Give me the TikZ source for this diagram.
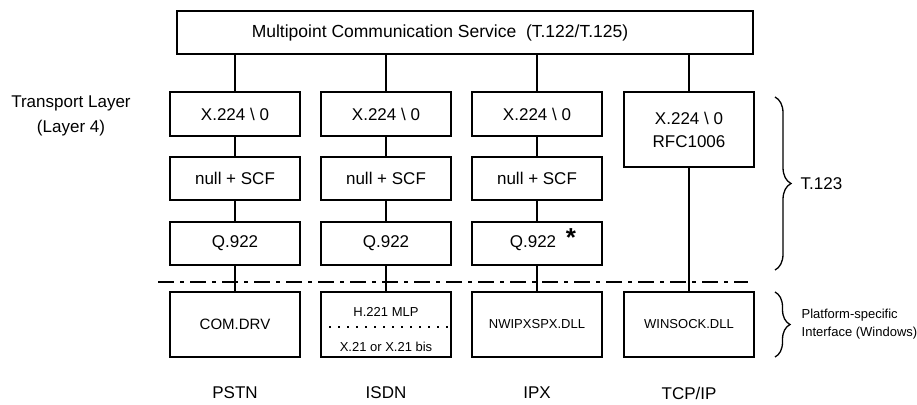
\documentclass[tikz,border=0pt]{standalone}
\usepackage{fontspec}
\setmainfont{Liberation Sans}
\usetikzlibrary{decorations.pathreplacing}
\begin{document}
\begin{tikzpicture}[x=1pt,y=-1pt,line width=1.3pt,
  box/.style={draw,inner sep=0pt,minimum width=130pt,minimum height=43pt,font=\fontsize{17}{20}\selectfont},
  lowbox/.style={box,minimum height=65pt},
  smalltext/.style={inner sep=0pt,font=\fontsize{13}{18}\selectfont},
  bigtext/.style={inner sep=0pt,font=\fontsize{17}{25}\selectfont},
  conn/.style={line width=1.3pt},
  sepline/.style={line width=1.8pt,dash pattern=on 16pt off 6pt on 4pt off 6pt},
  dotline/.style={line width=1.3pt,dash pattern=on 1.8pt off 7.2pt},
  bracestyle/.style={line width=1.3pt,decorate,decoration={brace,amplitude=16pt,aspect=0.5}}]
\useasboundingbox (0,0) rectangle (917,404);

% top box
\node[box,minimum width=576pt,minimum height=43pt] (mcs) at (465,32.5) {};
\node[inner sep=0pt,font=\fontsize{17.5}{20}\selectfont] (mcstext) at (440,32.5) {Multipoint Communication Service\ \ (T.122/T.125)};

% column 1
\node[box,minimum height=44pt] (x1) at (235,114) {X.224 \textbackslash\ 0};
\node[box] (n1) at (235,178.5) {null + SCF};
\node[box] (q1) at (235,243.5) {Q.922};
\node[lowbox,font=\fontsize{15}{18}\selectfont] (b1) at (235,324.5) {COM.DRV};

% column 2
\node[box,minimum height=44pt] (x2) at (386,114) {X.224 \textbackslash\ 0};
\node[box] (n2) at (386,178.5) {null + SCF};
\node[box] (q2) at (386,243.5) {Q.922};
\node[lowbox] (b2) at (386,324.5) {};
\node[smalltext] (h221) at (386,312) {H.221 MLP};
\node[smalltext] (x21) at (386,347) {X.21 or X.21 bis};

% column 3
\node[box,minimum height=44pt] (x3) at (537,114) {X.224 \textbackslash\ 0};
\node[box] (n3) at (537,178.5) {null + SCF};
\node[box] (q3) at (537,243.5) {\hspace*{-8pt}Q.922};
\node[inner sep=0pt,font=\fontsize{26}{26}\selectfont\bfseries] (ast) at (571,238) {*};
\node[lowbox,font=\fontsize{13}{18}\selectfont] (b3) at (537,324.5) {NWIPXSPX.DLL};

% column 4
\node[box,minimum height=75pt,align=center,font=\fontsize{17}{23}\selectfont] (x4) at (689,129.5) {X.224 \textbackslash\ 0\\RFC1006};
\node[lowbox,font=\fontsize{13}{18}\selectfont] (b4) at (689,324.5) {WINSOCK.DLL};

% connectors
\foreach \c in {1,2,3} {
  \draw[conn] (mcs.south -| x\c.north) -- (x\c.north);
  \draw[conn] (x\c.south) -- (n\c.north);
  \draw[conn] (n\c.south) -- (q\c.north);
  \draw[conn] (q\c.south) -- (b\c.north);
}
\draw[conn] (mcs.south -| x4.north) -- (x4.north);
\draw[conn] (x4.south) -- (b4.north);

% dotted divider in ISDN box
\draw[dotline] ([yshift=-2.5pt]b2.west) -- ([yshift=-2.5pt]b2.east);

% dash-dot separator
\coordinate (sepL) at (158,282);
\coordinate (sepR) at (748,282);
\draw[sepline] (sepL) -- (sepR);

% braces
\coordinate (br1t) at (775,97);
\coordinate (br1b) at (775,270);
\draw[bracestyle] (br1t) -- (br1b);
\coordinate (br2t) at (775,292);
\coordinate (br2b) at (775,357);
\draw[bracestyle,decoration={amplitude=15pt}] (br2t) -- (br2b);

% side labels
\node[bigtext,anchor=west] (t123) at (800,184) {T.123};
\node[smalltext,anchor=west,align=left] (psi) at (801,324) {Platform-specific\\Interface (Windows)};
\node[bigtext,align=center] (tl) at (71,115.5) {Transport Layer\\(Layer 4)};

% network labels
\node[bigtext] (pstn) at (235,393) {PSTN};
\node[bigtext] (isdn) at (386,393) {ISDN};
\node[bigtext] (ipx) at (537,393) {IPX};
\node[bigtext] (tcpip) at (689,393) {TCP/IP};
\end{tikzpicture}
\end{document}
